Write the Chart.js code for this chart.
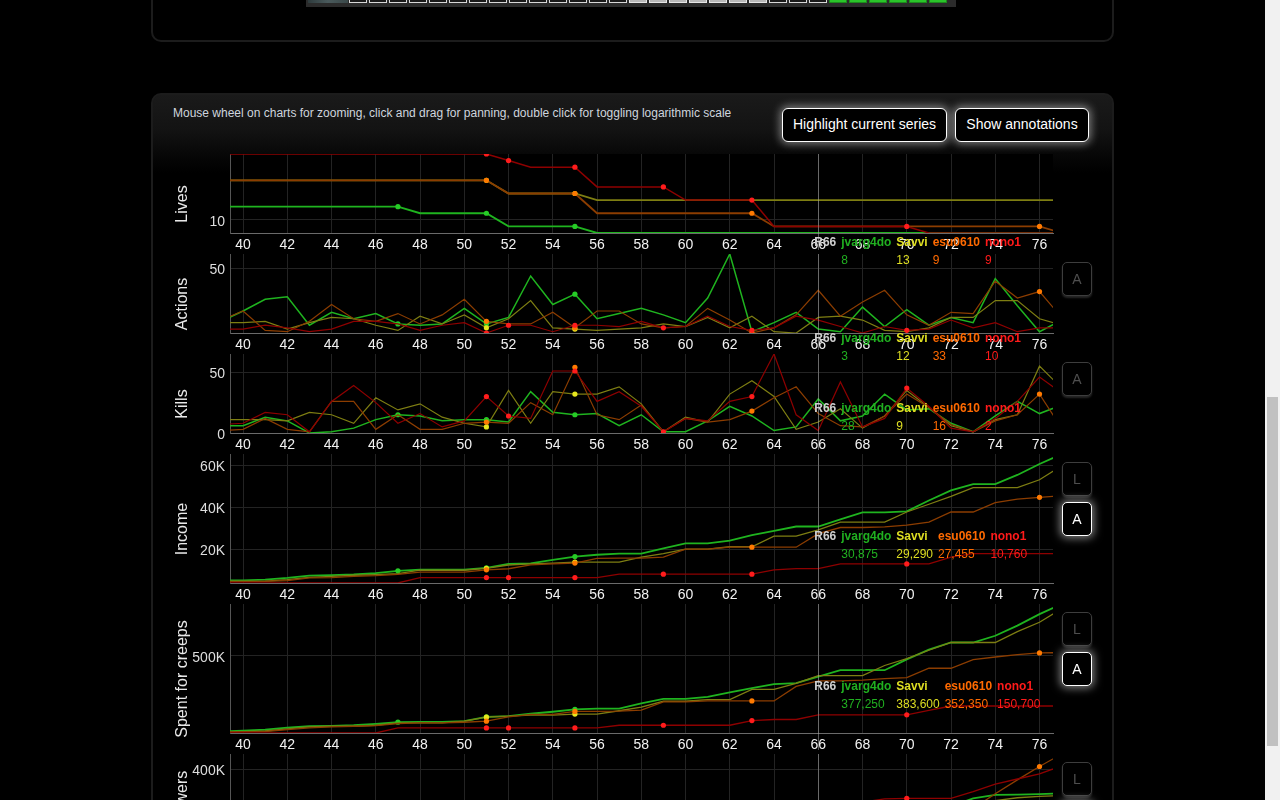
<!DOCTYPE html>
<html>
<head>
<meta charset="utf-8">
<title>Match statistics</title>
<script src="https://cdn.jsdelivr.net/npm/chart.js@4.4.1/dist/chart.umd.min.js"></script>
<style>
  html, body { margin:0; padding:0; background:#000; width:1280px; height:800px; overflow:hidden; font-family:"Liberation Sans", Arial, sans-serif; }
  #page { position:absolute; left:0; top:0; width:1265px; height:800px; overflow:hidden; background:#000; }
  .panel { position:absolute; left:151px; width:963px; box-sizing:border-box; border:2px solid #1c1c1c; border-radius:10px; }
  #panel1 { top:-40px; height:82px; }
  #panel2 { top:93px; height:900px; background:linear-gradient(to bottom, #1a1a1a 0px, #131313 35px, #060606 62px, #000 78px); }
  #strip { position:absolute; left:306px; top:-21px; width:650px; height:28px; box-sizing:border-box; background:#2b2b2b; border:2px solid #2b2b2b; border-top:none; display:flex; align-items:flex-end; padding-bottom:2px; }
  #strip .img { width:40px; height:24px; background:linear-gradient(to right,#2e3b3d,#4a5a5c,#3a4849); }
  #strip .c { width:18px; height:24px; margin:0 1px; box-sizing:border-box; border:1px solid #d8d8d8; background:#1a1a1a; }
  #strip .c.l { background:#b8b8b8; border-color:#e6e6e6; }
  #strip .c.g { background:#2ac42a; border-color:#1c8c1c; }
  #hint { position:absolute; left:173px; top:105px; font-size:12px; line-height:16px; color:#cfd5de; white-space:nowrap; }
  .topbtn { position:absolute; top:108px; height:34px; box-sizing:border-box; border:1.5px solid #fff; border-radius:6px; background:#000; color:#fff; font-size:14px; line-height:31px; text-align:center; box-shadow:0 0 9px 2px rgba(255,255,255,0.45); white-space:nowrap; }
  canvas.ch { position:absolute; left:160px; }
  .ytitle { position:absolute; left:181px; font-size:16px; line-height:19px; color:#e8e8e8; white-space:nowrap; transform:translate(-50%,-50%) rotate(-90deg); z-index:4; }
  .sbtn { position:absolute; left:1062px; width:30px; height:34px; box-sizing:border-box; border-radius:5px; background:#000; font-size:14px; line-height:32px; text-align:center; z-index:6; }
  .sbtn.dim { border:1px solid #3d3d3d; color:#4e4e4e; box-shadow:0 2px 2px #262626; }
  .sbtn.on { border:1.5px solid #fff; color:#fff; box-shadow:0 0 9px 2px rgba(255,255,255,0.5); }
  table.lg { position:absolute; border-collapse:collapse; border-spacing:0; font-size:12px; z-index:5; pointer-events:none; }
  table.lg td { padding:0 5px 0 0; height:18px; line-height:18px; white-space:nowrap; }
  table.lg td.n { font-weight:bold; }
  #sbTrack { position:absolute; left:1265px; top:0; width:15px; height:800px; background:#f1f1f1; }
  #sbThumb { position:absolute; left:1267px; top:397px; width:11px; height:349px; background:#c1c1c1; }
</style>
</head>
<body>
<div id="page">
  <div class="panel" id="panel1"></div>
  <div id="strip"></div>
  <div class="panel" id="panel2"></div>
  <div id="hint">Mouse wheel on charts for zooming, click and drag for panning, double click for toggling logarithmic scale</div>
  <div class="topbtn" style="left:782px;width:165px;">Highlight current series</div>
  <div class="topbtn" style="left:955px;width:134px;">Show annotations</div>
</div>
<div id="sbTrack"></div>
<div id="sbThumb"></div>
<script>
// ---------------- DATA ----------------
const rounds = [39,40,41,42,43,44,45,46,47,48,49,50,51,52,53,54,55,56,57,58,59,60,61,62,63,64,65,66,67,68,69,70,71,72,73,74,75,76,77];
const xTickValues = [40,42,44,46,48,50,52,54,56,58,60,62,64,66,68,70,72,74,76];
const hoverRound = 66;
const players = ['jvarg4do', 'Savvi', 'esu0610', 'nono1'];

const markersJvarg4do = [47, 51, 55];
const markersSavvi = [51, 55];
const markersEsu0610 = [51, 55, 63, 76];
const markersNono1 = [51, 52, 55, 59, 63, 70];

// Lives
const livesTicks = [10];
const livesJvarg4do = [12,12,12,12,12,12,12,12,12,11, 11,11,11,9,9,9,9,8,8,8, 8,8,8,8,8,8,8,8,8,8, 8,8,8,8,8,8,8,8,8];
const livesSavvi    = [16,16,16,16,16,16,16,16,16,16, 16,16,16,14,14,14,14,13,13,13, 13,13,13,13,13,13,13,13,13,13, 13,13,13,13,13,13,13,13,13];
const livesEsu0610  = [16,16,16,16,16,16,16,16,16,16, 16,16,16,14,14,14,14,11,11,11, 11,11,11,11,11,9,9,9,9,9, 9,9,9,9,9,9,9,9,8];
const livesNono1    = [20,20,20,20,20,20,20,20,20,20, 20,20,20,19,18,18,18,15,15,15, 15,13,13,13,13,9,9,9,9,9, 9,9,8,8,8,8,8,8,8];

// Actions
const actionsTicks = [50];
const actionsJvarg4do = [9,17,26,28,6,16,11,15,7,6, 7,19,7,12,44,22,30,11,15,19, 14,8,27,61,1,8,16,3,1,20, 5,18,6,12,8,42,21,1,10];
const actionsSavvi    = [8,8,9,3,8,12,11,6,2,13, 7,14,4,11,25,4,3,2,3,4, 7,5,12,4,13,1,0,12,13,10, 2,1,4,12,12,25,25,11,6];
const actionsEsu0610  = [10,17,2,1,9,22,11,9,15,7, 14,26,9,7,7,16,4,17,17,7, 4,5,19,10,0,4,14,33,13,24, 33,14,6,16,15,40,27,32,12];
const actionsNono1    = [3,3,6,4,1,3,9,9,7,2, 6,8,0,6,6,1,6,6,5,9, 4,5,13,5,2,4,13,10,5,0, 5,2,3,10,4,8,1,4,4];

// Kills
const killsTicks = [0, 50];
const killsJvarg4do = [6,6,13,10,0,1,4,11,15,14, 10,11,11,9,34,17,15,16,6,15, 1,1,10,22,14,2,5,28,10,14, 32,19,20,8,1,14,26,16,23];
const killsSavvi    = [11,11,11,10,17,15,8,29,19,24, 13,8,5,35,8,34,32,32,38,24, 1,13,9,32,43,30,3,9,20,4, 14,35,21,6,1,11,15,55,37];
const killsEsu0610  = [2,3,12,3,1,26,26,3,15,3, 3,8,9,8,25,15,54,15,11,23, 1,12,9,11,18,29,38,16,6,5, 14,32,21,7,1,10,15,32,4];
const killsNono1    = [7,8,17,15,1,26,39,25,8,16, 5,10,30,14,12,51,51,26,34,22, 1,12,10,26,30,65,15,2,42,5, 12,37,22,4,1,12,26,46,33];

// Income
const incomeTicks = [20000, 40000, 60000];
const incomeJvarg4do = [5100,5200,5500,6300,7400,7700,8000,8600,9700,10300, 10300,10300,11100,13000,13300,14900,16500,17400,17900,17900, 20400,22800,22800,24100,26800,28800,30875,30875,34300,37600, 37600,38100,43300,48100,51100,51100,55500,60700,65500];
const incomeSavvi    = [4700,4700,4800,5500,6600,7100,7600,7900,8400,10000, 10000,10000,10900,12500,13000,13400,13900,13900,13900,16300, 17900,20100,20100,21200,21200,26300,26300,29290,33000,33000, 33000,37800,41500,45300,49400,49400,49400,53200,59800];
const incomeEsu0610  = [4700,4700,4700,5000,6300,6500,7100,7400,8000,9100, 9100,9100,10200,10700,12600,13000,13400,15700,15800,15800, 16300,20100,20100,21000,21000,21000,21000,27455,30400,30400, 30700,31500,33000,37800,37800,42300,44000,44800,45500];
const incomeNono1    = [3900,3900,3900,3900,3900,3900,3900,3900,3900,6500, 6500,6500,6500,6500,6500,6500,6500,6500,8100,8100, 8100,8100,8100,8100,8100,10200,10760,10760,13000,13000, 13000,13000,13000,16300,17900,17900,17900,17900,17900];

// Spent for creeps
const spentTicks = [500000];
const spentJvarg4do = [52000,56250,62500,74750,82500,84750,88500,96750,106750,108500, 108500,112500,138750,142750,156750,168750,182750,186750,186750,219000, 245000,245000,257000,283250,309250,333250,339250,377250,415500,415500, 415500,479750,538000,580000,580000,620000,680250,748500,808750];
const spentSavvi    = [48000,50500,54500,66500,78500,82500,82500,88500,102500,102500, 102500,112500,136750,142750,148750,148750,154750,154750,174750,196750, 231000,231000,241000,241000,301250,301250,337250,383600,383600,383600, 443500,483750,534000,580000,580000,580000,644250,700500,780750];
const spentEsu0610  = [48000,50500,50500,62500,72500,78500,82500,86500,98500,102500, 102500,106500,112500,138750,152750,152750,170750,170750,172750,178750, 227000,227000,233000,233000,233000,233000,319250,352350,352350,357000, 365000,371000,427000,427000,478000,494000,508000,518000,520000];
const spentNono1    = [42500,42500,42500,42500,42500,42500,42500,42500,72500,72500, 72500,72500,72500,72500,72500,72500,72500,72500,88600,88600, 88600,88600,88600,88600,116600,122700,122700,150700,150700,150700, 150700,150700,176800,202900,202900,202900,202900,202900,202900];

// Spent for towers
const towersTicks = [200000, 400000];
const towersJvarg4do = [18000,22000,26000,30000,36000,40000,46000,52000,60000,64000, 68000,74000,84000,90000,98000,106000,116000,124000,130000,138000, 146000,154000,162000,172000,182000,192000,200000,208000,218000,228000, 238000,248000,258000,270000,298000,310000,311000,313000,315000];
const towersSavvi    = [16000,20000,24000,28000,34000,38000,44000,50000,56000,60000, 64000,70000,80000,86000,94000,102000,110000,118000,126000,134000, 142000,150000,158000,168000,178000,186000,194000,202000,212000,222000, 232000,242000,252000,264000,276000,290000,300000,305000,308000];
const towersEsu0610  = [12000,16000,20000,24000,28000,32000,38000,42000,48000,52000, 56000,60000,68000,74000,80000,88000,96000,104000,112000,120000, 128000,138000,146000,156000,166000,176000,186000,196000,206000,216000, 226000,236000,246000,256000,262000,314000,363000,410000,454000];
const towersNono1    = [0,4000,8000,14000,20000,26000,32000,40000,48000,56000, 64000,72000,82000,92000,102000,112000,122000,134000,146000,158000, 170000,182000,194000,206000,218000,230000,244000,258000,272000,285000, 296000,298000,298000,298000,322000,348000,366000,384000,412000];

// ---------------- STYLE / LAYOUT ----------------
const FONT = "'Liberation Sans', Arial, sans-serif";
const markerRounds = [markersJvarg4do, markersSavvi, markersEsu0610, markersNono1];
const lineColors = ['#1fb41f', '#7e7e12', '#8c3d00', '#8e0000'];
const dotColors  = ['#26cc26', '#e6e61e', '#ff7a00', '#ff1c1c'];
const textColors = ['#20b020', '#dede22', '#ff6a00', '#ff1a1a'];
const xView = { min: 39.41, max: 76.61 };
const PAD_TOP = 14, AXIS_H = 17;

const chartDefs = [
  { title: 'Lives',            plotTop: 154, plotH: 79,  series: [livesJvarg4do, livesSavvi, livesEsu0610, livesNono1],         ticks: livesTicks,   widths: [1.9, 1.8, 1.8, 1.5], buttons: [] },
  { title: 'Actions',          plotTop: 254, plotH: 79,  series: [actionsJvarg4do, actionsSavvi, actionsEsu0610, actionsNono1], ticks: actionsTicks, widths: [1.5, 1.2, 1.2, 1.2], buttons: [['A', false]] },
  { title: 'Kills',            plotTop: 354, plotH: 79,  series: [killsJvarg4do, killsSavvi, killsEsu0610, killsNono1],         ticks: killsTicks,   widths: [1.5, 1.2, 1.2, 1.2], buttons: [['A', false]] },
  { title: 'Income',           plotTop: 454, plotH: 129, series: [incomeJvarg4do, incomeSavvi, incomeEsu0610, incomeNono1],     ticks: incomeTicks,  widths: [1.8, 1.3, 1.3, 1.3], buttons: [['L', false], ['A', true]] },
  { title: 'Spent for creeps', plotTop: 604, plotH: 129, series: [spentJvarg4do, spentSavvi, spentEsu0610, spentNono1],         ticks: spentTicks,   widths: [1.8, 1.3, 1.3, 1.3], buttons: [['L', false], ['A', true]] },
  { title: 'Spent for towers', plotTop: 754, plotH: 129, series: [towersJvarg4do, towersSavvi, towersEsu0610, towersNono1],     ticks: towersTicks,  widths: [1.8, 1.3, 1.3, 1.3], buttons: [['L', false], ['A', true]] }
];

// top image strip
(function () {
  const s = document.getElementById('strip');
  const img = document.createElement('div'); img.className = 'img'; s.appendChild(img);
  const kinds = [];
  for (let i = 0; i < 14; i++) kinds.push('c');
  for (let i = 0; i < 7; i++) kinds.push('c l');
  for (let i = 0; i < 3; i++) kinds.push('c');
  for (let i = 0; i < 6; i++) kinds.push('c g');
  kinds.forEach(k => { const d = document.createElement('div'); d.className = k; s.appendChild(d); });
})();

function fmtTick(v) {
  return v >= 1000 ? (v / 1000) + 'K' : String(v);
}

const plotPlugin = {
  id: 'plotDecor',
  beforeDraw(chart) {
    const a = chart.chartArea, c = chart.ctx;
    c.save();
    c.fillStyle = '#000';
    c.fillRect(a.left, a.top, a.right - a.left, a.bottom - a.top);
    c.restore();
  },
  afterDraw(chart) {
    const x = chart.scales.x.getPixelForValue(hoverRound);
    const c = chart.ctx;
    c.save();
    c.strokeStyle = 'rgba(190,190,190,0.45)';
    c.lineWidth = 1;
    c.beginPath();
    c.moveTo(Math.round(x) + 0.5, chart.chartArea.top);
    c.lineTo(Math.round(x) + 0.5, chart.height);
    c.stroke();
    c.restore();
  }
};

const page = document.getElementById('page');
const hoverIdx = rounds.indexOf(hoverRound);

chartDefs.forEach(def => {
  const top = def.plotTop - PAD_TOP;
  const H = PAD_TOP + def.plotH + AXIS_H;
  const cv = document.createElement('canvas');
  cv.className = 'ch';
  cv.width = 900; cv.height = H;
  cv.style.width = '900px'; cv.style.height = H + 'px';
  cv.style.top = top + 'px';
  page.appendChild(cv);

  // y-axis title (rotated text, centred slightly below the plot centre as in the original)
  const t = document.createElement('div');
  t.className = 'ytitle';
  t.textContent = def.title;
  t.style.top = (def.plotTop + def.plotH / 2 + 10) + 'px';
  page.appendChild(t);

  const all = [].concat(...def.series);
  const yMin = Math.min(...all), yMax = Math.max(...all);

  const datasets = def.series.map((vals, i) => ({
    label: players[i],
    data: vals.map((v, j) => ({ x: rounds[j], y: v })),
    borderColor: lineColors[i],
    borderWidth: def.widths[i],
    pointRadius: rounds.map(r => markerRounds[i].includes(r) ? 2.6 : 0),
    pointBackgroundColor: dotColors[i],
    pointBorderWidth: 0,
    pointHoverRadius: 0,
    tension: 0,
    fill: false,
    order: 4 - i
  }));

  const chart = new Chart(cv, {
    type: 'line',
    data: { datasets },
    plugins: [plotPlugin],
    options: {
      animation: false,
      responsive: false,
      devicePixelRatio: 1,
      events: [],
      layout: { padding: { top: PAD_TOP, right: 7, left: 0, bottom: 0 } },
      plugins: { legend: { display: false }, tooltip: { enabled: false } },
      scales: {
        x: {
          type: 'linear',
          min: xView.min, max: xView.max,
          afterBuildTicks: s => { s.ticks = xTickValues.map(v => ({ value: v })); },
          afterFit: s => { s.height = AXIS_H; },
          grid: { color: '#232323', drawTicks: false },
          border: { color: '#6a6a6a', width: 1 },
          ticks: { color: '#f2f2f2', font: { size: 14, family: FONT }, padding: 3.5, maxRotation: 0, autoSkip: false }
        },
        y: {
          type: 'linear',
          min: yMin, max: yMax,
          afterBuildTicks: s => { s.ticks = def.ticks.map(v => ({ value: v })); },
          afterFit: s => { s.width = 70; },
          grid: { color: '#232323', drawTicks: false },
          border: { color: '#555', width: 1 },
          ticks: { color: '#dedede', font: { size: 14, family: FONT }, padding: 5, labelOffset: 2, callback: v => fmtTick(v) },
          title: { display: false }
        }
      }
    }
  });

  // hover legend (R66 + values), positioned through the chart scales
  const lx = 160 + chart.scales.x.getPixelForValue(hoverRound) - 4;
  const ly = top + chart.scales.y.getPixelForValue(def.series[0][hoverIdx]);
  const tbl = document.createElement('table');
  tbl.className = 'lg';
  tbl.style.left = lx + 'px';
  tbl.style.top = ly + 'px';
  const r1 = tbl.insertRow(), r2 = tbl.insertRow();
  const c0 = r1.insertCell(); c0.className = 'n'; c0.textContent = 'R' + hoverRound; c0.style.color = '#cfcfcf';
  r2.insertCell();
  players.forEach((p, i) => {
    const a = r1.insertCell(); a.className = 'n'; a.textContent = p; a.style.color = textColors[i];
    const b = r2.insertCell(); b.textContent = def.series[i][hoverIdx].toLocaleString('en-US'); b.style.color = textColors[i];
  });
  page.appendChild(tbl);

  // side toggle buttons
  def.buttons.forEach((b, k) => {
    const d = document.createElement('div');
    d.className = 'sbtn ' + (b[1] ? 'on' : 'dim');
    d.textContent = b[0];
    d.style.top = (def.plotTop + 8 + k * 40) + 'px';
    page.appendChild(d);
  });
});
</script>
</body>
</html>
